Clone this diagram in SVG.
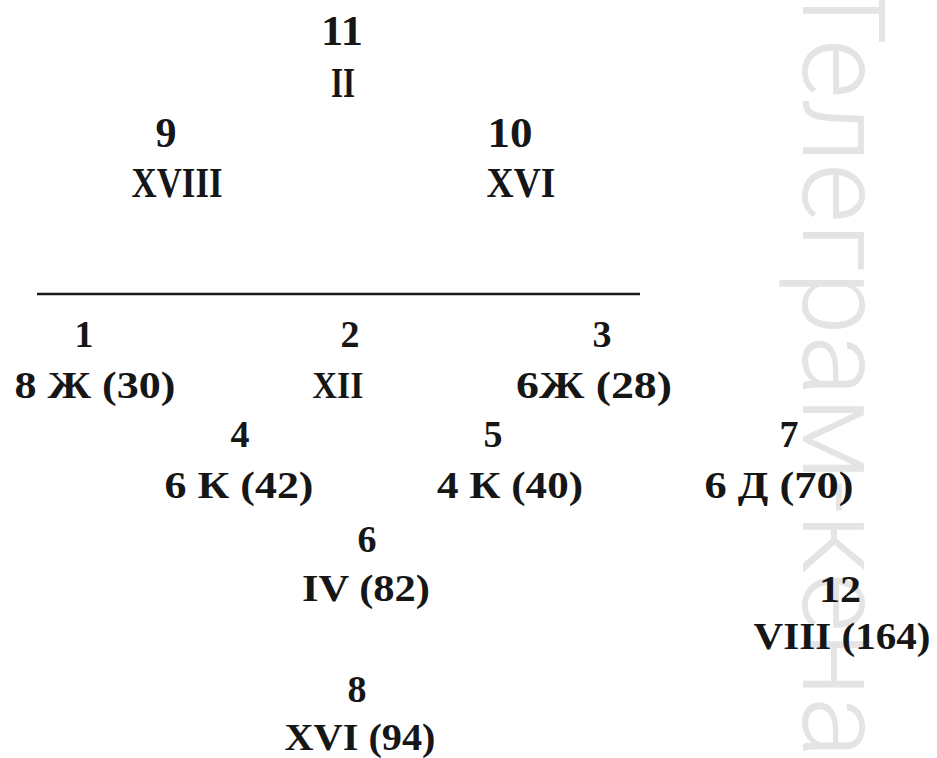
<svg xmlns="http://www.w3.org/2000/svg" width="937" height="758" viewBox="0 0 937 758">
<style>
.t{font-family:"Liberation Serif","DejaVu Serif",serif;font-weight:bold;fill:#161616;text-anchor:middle}
.u{font-size:42px}
.l{font-size:38px}
.wm{font-family:Roboto,"Liberation Sans",sans-serif;font-weight:300;font-size:115px;fill:#e4e4e4}
</style>
<rect width="937" height="758" fill="#ffffff"/>
<g id="watermark">
<text class="wm" transform="translate(803,-24) rotate(90)">Телеграм-кена</text>
</g>
<g id="connectors">
<line x1="37" y1="294" x2="640" y2="294" stroke="#1a1a1a" stroke-width="2.5"/>
</g>
<g id="node11"><text class="t u" x="342" y="45" textLength="42" lengthAdjust="spacingAndGlyphs">11</text><text class="t u" x="343" y="97" textLength="24" lengthAdjust="spacingAndGlyphs">II</text></g>
<g id="node9"><text class="t u" x="166" y="147">9</text><text class="t u" x="177" y="197" textLength="91" lengthAdjust="spacingAndGlyphs">XVIII</text></g>
<g id="node10"><text class="t u" x="510" y="147" textLength="45" lengthAdjust="spacingAndGlyphs">10</text><text class="t u" x="521" y="197" textLength="69" lengthAdjust="spacingAndGlyphs">XVI</text></g>
<g id="node1"><text class="t l" x="84" y="347">1</text><text class="t l" x="95" y="398" textLength="161" lengthAdjust="spacingAndGlyphs">8 Ж (30)</text></g>
<g id="node2"><text class="t l" x="350" y="347">2</text><text class="t l" x="338" y="398" textLength="51" lengthAdjust="spacingAndGlyphs">XII</text></g>
<g id="node3"><text class="t l" x="602" y="347">3</text><text class="t l" x="594" y="398" textLength="156" lengthAdjust="spacingAndGlyphs">6Ж (28)</text></g>
<g id="node4"><text class="t l" x="240" y="447">4</text><text class="t l" x="239" y="498" textLength="149" lengthAdjust="spacingAndGlyphs">6 К (42)</text></g>
<g id="node5"><text class="t l" x="493" y="447">5</text><text class="t l" x="510" y="498" textLength="146" lengthAdjust="spacingAndGlyphs">4 К (40)</text></g>
<g id="node7"><text class="t l" x="789" y="447">7</text><text class="t l" x="779" y="498" textLength="149" lengthAdjust="spacingAndGlyphs">6 Д (70)</text></g>
<g id="node6"><text class="t l" x="367" y="552">6</text><text class="t l" x="366" y="601" textLength="128" lengthAdjust="spacingAndGlyphs">IV (82)</text></g>
<g id="node12"><text class="t l" x="840" y="602" textLength="42" lengthAdjust="spacingAndGlyphs">12</text><text class="t l" x="842" y="649" textLength="177" lengthAdjust="spacingAndGlyphs">VIII (164)</text></g>
<g id="node8"><text class="t l" x="357" y="702">8</text><text class="t l" x="360" y="750" textLength="151" lengthAdjust="spacingAndGlyphs">XVI (94)</text></g>
</svg>
